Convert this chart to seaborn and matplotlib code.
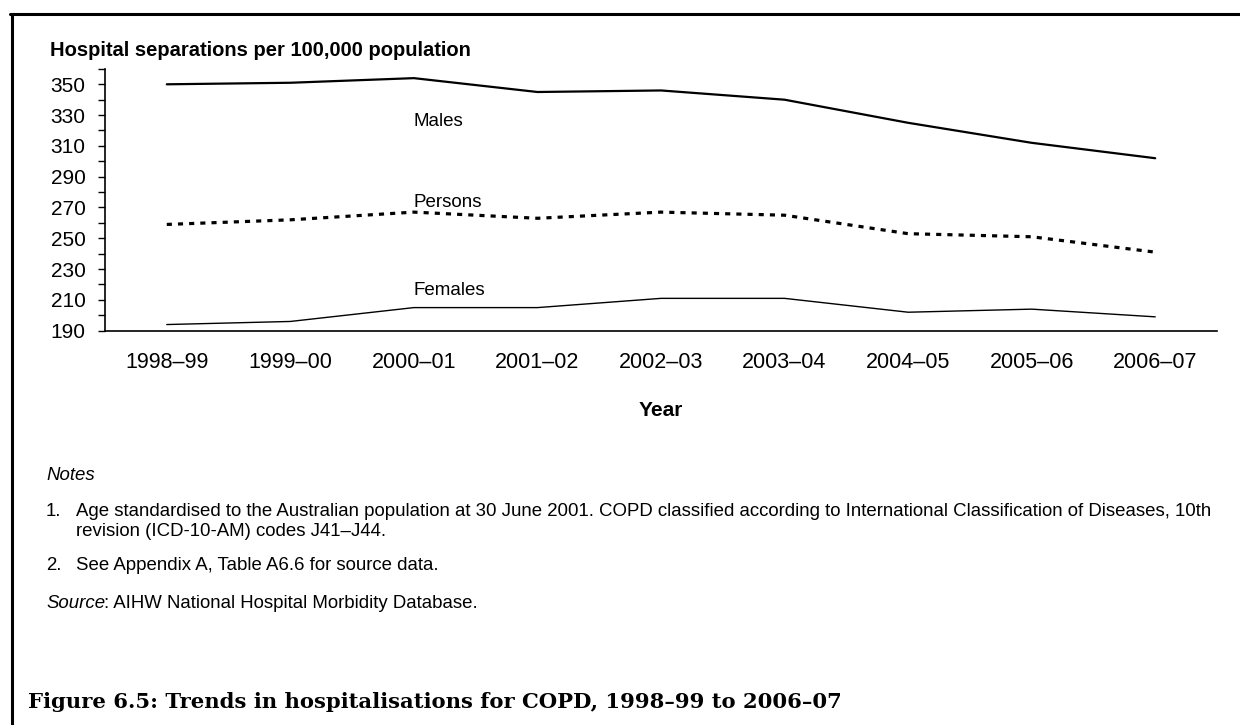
import matplotlib
matplotlib.use("Agg")
import matplotlib.pyplot as plt
from matplotlib.lines import Line2D
import seaborn as sns
import pandas as pd

# ---- data ----
years = ["1998–99", "1999–00", "2000–01", "2001–02", "2002–03",
         "2003–04", "2004–05", "2005–06", "2006–07"]
males = [350, 351, 354, 345, 346, 340, 325, 312, 302]
persons = [259, 262, 267, 263, 267, 265, 253, 251, 241]
females = [194, 196, 205, 205, 211, 211, 202, 204, 199]
y_ticks = [190, 210, 230, 250, 270, 290, 310, 330, 350]
series_labels = ["Males", "Persons", "Females"]
label_values = [326, 273, 216]

sns.set_theme(style="white")
plt.rcParams["font.family"] = ["Liberation Sans", "DejaVu Sans"]
plt.rcParams["text.color"] = "black"
plt.rcParams["axes.labelcolor"] = "black"
plt.rcParams["xtick.color"] = "black"
plt.rcParams["ytick.color"] = "black"

W, H = 1240, 725
fig = plt.figure(figsize=(W / 100, H / 100), dpi=100)
fig.patch.set_facecolor("white")

def px(x, y):
    return x / W, 1 - y / H

ax_l, ax_r, ax_b, ax_t = 105, 1217, 330.7, 68.9
ax = fig.add_axes([ax_l / W, 1 - ax_b / H, (ax_r - ax_l) / W, (ax_b - ax_t) / H])

df = pd.DataFrame({"x": list(range(len(years))), "Males": males,
                   "Persons": persons, "Females": females})

sns.lineplot(data=df, x="x", y="Males", ax=ax, color="black", linewidth=1.6)
sns.lineplot(data=df, x="x", y="Persons", ax=ax, color="black", linewidth=2.3,
             dashes=False)
ax.lines[-1].set_dashes((1.6, 1.9))
sns.lineplot(data=df, x="x", y="Females", ax=ax, color="black", linewidth=1.0)

ax.set_xlim(-0.5, len(years) - 0.5)
ax.set_ylim(190, 360)
ax.set_xticks(range(len(years)))
ax.set_xticklabels(years, fontsize=15.5, color="black")
ax.set_yticks(y_ticks)
ax.set_yticklabels([str(v) for v in y_ticks], fontsize=15, color="black")
ax.set_yticks(list(range(190, 361, 10)), minor=True)
ax.tick_params(axis="y", which="both", direction="out", length=5, width=1,
               color="black", left=True, pad=9, labelcolor="black")
ax.tick_params(axis="x", which="both", length=0, pad=15, labelcolor="black")
ax.set_xlabel("")
ax.set_ylabel("")
for s in ["top", "right"]:
    ax.spines[s].set_visible(False)
for s in ["left", "bottom"]:
    ax.spines[s].set_color("black")
    ax.spines[s].set_linewidth(1.2)
ax.set_facecolor("white")

for lab, v in zip(series_labels, label_values):
    ax.text(2, v, lab, fontsize=13.5, ha="left", va="center", color="black")

# ---- texts ----
fs = 13.4
fig.text(*px(50, 50), "Hospital separations per 100,000 population",
         fontsize=14.5, fontweight="bold", ha="left", va="center", color="black")
fig.text(*px(661, 411), "Year", fontsize=15, fontweight="bold",
         ha="center", va="center", color="black")
fig.text(*px(46, 475), "Notes", fontsize=fs, style="italic",
         ha="left", va="center", color="black")
fig.text(*px(46, 512), "1.", fontsize=fs, ha="left", va="center", color="black")
fig.text(*px(76, 512), "Age standardised to the Australian population at 30 June 2001. "
         "COPD classified according to International Classification of Diseases, 10th",
         fontsize=fs, ha="left", va="center", color="black")
fig.text(*px(76, 531), "revision (ICD-10-AM) codes J41–J44.", fontsize=fs,
         ha="left", va="center", color="black")
fig.text(*px(46, 566), "2.", fontsize=fs, ha="left", va="center", color="black")
fig.text(*px(76, 566), "See Appendix A, Table A6.6 for source data.", fontsize=fs,
         ha="left", va="center", color="black")
t_src = fig.text(*px(46, 603), "Source", fontsize=fs, style="italic",
                 ha="left", va="center", color="black")
fig.canvas.draw()
bb = t_src.get_window_extent(renderer=fig.canvas.get_renderer())
fig.text((bb.x1 - 1) / W, 1 - 603 / H, ": AIHW National Hospital Morbidity Database.",
         fontsize=fs, ha="left", va="center", color="black")
fig.text(*px(28, 702), "Figure 6.5: Trends in hospitalisations for COPD, 1998–99 to 2006–07",
         fontsize=15.2, fontweight="bold", family=["DejaVu Serif"],
         ha="left", va="center", color="black")

# frame (top and left edges)
fig.add_artist(Line2D([10 / W, 1.0], [1 - 14 / H, 1 - 14 / H],
                      transform=fig.transFigure, color="black", linewidth=2.2))
fig.add_artist(Line2D([11.5 / W, 11.5 / W], [1 - 14 / H, 0.0],
                      transform=fig.transFigure, color="black", linewidth=2.2))

fig.savefig("out.png", dpi=100, facecolor="white")
